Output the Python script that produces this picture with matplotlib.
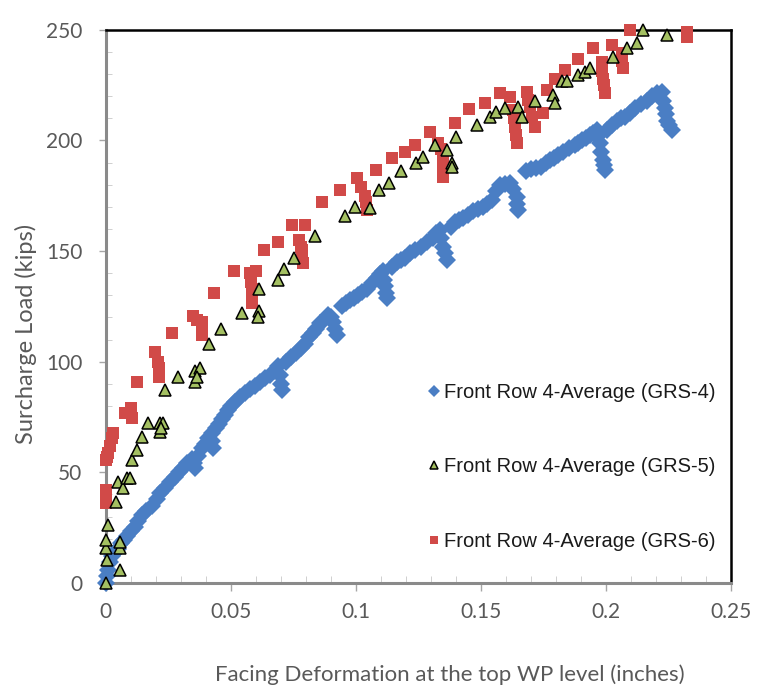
import numpy as np
import matplotlib
matplotlib.use("Agg")
import matplotlib.pyplot as plt
from matplotlib.ticker import MultipleLocator

# --- data (deformation in inches, load in kips) ---
grs4_x = [0.0000, 0.0004, 0.0010, 0.0016, 0.0025, 0.0035, 0.0048, 0.0060, 0.0072, 0.0084,
          0.0100, 0.0116, 0.0130, 0.0144, 0.0160, 0.0184, 0.0204, 0.0218, 0.0236, 0.0256,
          0.0276, 0.0292, 0.0308, 0.0326, 0.0344, 0.0352, 0.0358, 0.0370, 0.0384, 0.0396,
          0.0410, 0.0424, 0.0426, 0.0428, 0.0440, 0.0452, 0.0464, 0.0476, 0.0488, 0.0502,
          0.0516, 0.0536, 0.0556, 0.0576, 0.0596, 0.0616, 0.0636, 0.0656, 0.0676, 0.0690,
          0.0696, 0.0700, 0.0704, 0.0720, 0.0740, 0.0760, 0.0780, 0.0796, 0.0812, 0.0828,
          0.0842, 0.0856, 0.0872, 0.0888, 0.0900, 0.0908, 0.0916, 0.0924, 0.0944, 0.0960,
          0.0976, 0.0992, 0.1008, 0.1026, 0.1044, 0.1064, 0.1084, 0.1096, 0.1108, 0.1112,
          0.1116, 0.1120, 0.1124, 0.1144, 0.1164, 0.1180, 0.1196, 0.1216, 0.1236, 0.1260,
          0.1284, 0.1308, 0.1322, 0.1336, 0.1342, 0.1348, 0.1356, 0.1364, 0.1380, 0.1396,
          0.1412, 0.1428, 0.1448, 0.1468, 0.1488, 0.1508, 0.1526, 0.1544, 0.1560, 0.1576,
          0.1596, 0.1616, 0.1630, 0.1644, 0.1646, 0.1648, 0.1680, 0.1700, 0.1720, 0.1740,
          0.1760, 0.1776, 0.1792, 0.1808, 0.1828, 0.1852, 0.1876, 0.1890, 0.1904, 0.1920,
          0.1936, 0.1950, 0.1964, 0.1970, 0.1976, 0.1982, 0.1988, 0.1992, 0.1996, 0.2004,
          0.2024, 0.2044, 0.2060, 0.2076, 0.2096, 0.2116, 0.2140, 0.2164, 0.2184, 0.2204,
          0.2224, 0.2230, 0.2236, 0.2240, 0.2244, 0.2254, 0.2264]
grs4_y = [0, 3, 6, 9.5, 12, 14, 15.5, 18, 19.5, 21,
          23.5, 25.5, 28, 30.5, 32.5, 35, 38, 40.5, 43, 45.5,
          48, 50, 52, 54, 56, 54, 52, 57.5, 61, 63,
          65.5, 68, 64, 61, 70, 72, 74, 76, 78, 80,
          82, 84, 86, 87.5, 89, 91, 92.5, 94, 96, 98,
          94, 90, 87, 100, 102, 104, 106, 108, 111, 113,
          115, 117.5, 119, 121, 120, 118, 115, 112, 125, 126.5,
          128, 129, 130, 131.5, 133, 135.5, 138, 139.5, 141, 137,
          134, 131, 129, 143, 145, 146, 147, 149, 150.5, 152,
          154, 156, 158, 159.5, 156, 152, 149, 146, 161, 163,
          164, 165, 166.5, 168, 169, 170, 171.5, 173, 177, 180,
          180.5, 181, 178, 174.5, 171.5, 168.6, 186, 187, 187.5, 188,
          190, 191, 192, 193.5, 195, 196.5, 198, 199, 200, 201,
          202.5, 203.5, 204.8, 202, 199, 195, 191, 189, 186.7, 204.8,
          207, 209, 210, 210.6, 212.5, 214.7, 216.5, 218, 220, 221.5,
          222, 218, 214.7, 212, 209, 207, 204.8]

grs5_x = [0.0000, 0.0004, 0.0000, 0.0000, 0.0008, 0.0056, 0.0056, 0.0056, 0.0040, 0.0048,
          0.0068, 0.0084, 0.0096, 0.0104, 0.0124, 0.0144, 0.0168, 0.0216, 0.0216, 0.0228,
          0.0220, 0.0236, 0.0288, 0.0356, 0.0376, 0.0356, 0.0364, 0.0412, 0.0460, 0.0544,
          0.0612, 0.0612, 0.0608, 0.0688, 0.0712, 0.0752, 0.0836, 0.0956, 0.0996, 0.1056,
          0.1092, 0.1132, 0.1180, 0.1240, 0.1268, 0.1316, 0.1364, 0.1384, 0.1384, 0.1400,
          0.1484, 0.1536, 0.1560, 0.1596, 0.1648, 0.1664, 0.1716, 0.1788, 0.1796, 0.1824,
          0.1844, 0.1888, 0.1916, 0.1936, 0.2028, 0.2084, 0.2124, 0.2148, 0.2244]
grs5_y = [0, 10.4, 15.8, 19.4, 26.2, 5.9, 15.8, 18.5, 36.6, 45.7,
          43, 47.5, 47.5, 55.6, 60, 66, 72.3, 72.3, 68.3, 72.3,
          70, 87, 93, 96, 97, 91, 93, 108, 115, 122,
          133, 123, 120, 137, 142, 147, 157, 166, 170, 169.5,
          177.6, 180.8, 186, 190, 192.6, 198, 195.7, 190, 188, 201.6,
          207, 210.6, 213, 214.7, 215, 210.6, 218, 220.6, 217, 227,
          227, 229.6, 231, 232.8, 237.8, 242, 244, 250, 247.7]

grs6_x = [0.0000, 0.0000, 0.0000, 0.0000, 0.0000, 0.0004, 0.0008, 0.0016, 0.0024, 0.0028,
          0.0076, 0.0096, 0.0100, 0.0104, 0.0124, 0.0196, 0.0208, 0.0212, 0.0212, 0.0264,
          0.0348, 0.0366, 0.0384, 0.0384, 0.0384, 0.0432, 0.0512, 0.0576, 0.0580, 0.0584,
          0.0584, 0.0584, 0.0600, 0.0632, 0.0688, 0.0744, 0.0772, 0.0780, 0.0784, 0.0786,
          0.0788, 0.0796, 0.0864, 0.0936, 0.1004, 0.1020, 0.1036, 0.1040, 0.1044, 0.1080,
          0.1144, 0.1196, 0.1236, 0.1296, 0.1328, 0.1340, 0.1348, 0.1348, 0.1348, 0.1348,
          0.1396, 0.1452, 0.1516, 0.1576, 0.1616, 0.1628, 0.1632, 0.1636, 0.1640, 0.1644,
          0.1684, 0.1690, 0.1696, 0.1706, 0.1716, 0.1748, 0.1764, 0.1796, 0.1836, 0.1888,
          0.1948, 0.1984, 0.1986, 0.1988, 0.1992, 0.1996, 0.2024, 0.2064, 0.2066, 0.2068,
          0.2096, 0.2324, 0.2324]
grs6_y = [36, 38, 39.8, 42, 55.6, 57, 58.8, 62, 65.5, 67.8,
          76.8, 76.8, 79, 74.6, 90.9, 104.4, 100, 97, 93, 113,
          120.7, 119, 118, 115, 112, 131, 141, 140, 136, 133,
          130, 126.6, 141, 150.5, 154, 162, 155, 152, 150.5, 147,
          144.6, 162, 172, 177.6, 183, 179, 175, 172, 168.6, 186.7,
          192, 194.8, 198, 204, 199, 196, 194, 190, 186.5, 183.5,
          208, 214, 217, 221.5, 219.7, 213.8, 210, 206, 202.5, 199,
          222, 218.5, 215, 210.5, 206, 212.4, 222.8, 228, 232, 237,
          241.8, 235.5, 231.5, 228, 225, 221.5, 243, 239.6, 236, 232.8,
          250, 246.8, 249]

x_ticks = [0, 0.05, 0.1, 0.15, 0.2, 0.25]
x_tick_labels = ["0", "0.05", "0.1", "0.15", "0.2", "0.25"]
y_ticks = [0, 50, 100, 150, 200, 250]

labels = ["Front Row 4-Average (GRS-4)",
          "Front Row 4-Average (GRS-5)",
          "Front Row 4-Average (GRS-6)"]

plt.rcParams['font.family'] = ['Lato', 'DejaVu Sans']

fig = plt.figure(figsize=(7.67, 6.94), dpi=100)
ax = fig.add_axes([0.138, 0.160, 0.815, 0.797])

h4, = ax.plot(grs4_x, grs4_y, 'D', color='#4a7ec4', ms=9, mew=0,
              clip_on=False, zorder=3, label=labels[0])
h6, = ax.plot(grs6_x, grs6_y, 's', color='#d14a48', ms=8.5, mew=0,
              clip_on=False, zorder=4, label=labels[2])
h5, = ax.plot(grs5_x, grs5_y, '^', mfc='#a4c062', mec='black', ms=8, mew=1.1,
              clip_on=False, zorder=5, label=labels[1])

ax.set_xlim(0, 0.25)
ax.set_ylim(0, 250)
ax.set_xticks(x_ticks)
ax.set_xticklabels(x_tick_labels)
ax.set_yticks(y_ticks)
ax.xaxis.set_minor_locator(MultipleLocator(0.01))
ax.yaxis.set_minor_locator(MultipleLocator(10))

ax.tick_params(axis='both', which='major', labelsize=15, labelcolor='#595959',
               color='#a6a6a6', width=1)
ax.tick_params(axis='x', which='major', direction='out', length=6, pad=8)
ax.tick_params(axis='y', which='major', direction='out', length=5, pad=12)
ax.tick_params(axis='x', which='minor', direction='in', length=5, color='#c8c8c8')
ax.tick_params(axis='y', which='minor', direction='in', length=4, color='#c8c8c8')

for side in ['left', 'bottom']:
    ax.spines[side].set_color('#8a8a8a')
    ax.spines[side].set_linewidth(2.2)
for side in ['top', 'right']:
    ax.spines[side].set_color('black')
    ax.spines[side].set_linewidth(1.8)

ax.set_xlabel("Facing Deformation at the top WP level (inches)", fontsize=16, color='#595959')
ax.xaxis.set_label_coords(0.55, -0.148)
ax.set_ylabel("Surcharge Load (kips)", fontsize=17, color='#595959')
ax.yaxis.set_label_coords(-0.11, 0.45)

leg = ax.legend(handles=[h4, h5, h6], loc='center', bbox_to_anchor=(0.745, 0.21),
                frameon=False, prop={'family': 'Liberation Sans', 'size': 14.5},
                labelspacing=2.75, handlelength=0.6, handletextpad=0.2, markerscale=0.7)
for t in leg.get_texts():
    t.set_color('#1a1a1a')

fig.savefig("out.png", dpi=100)
